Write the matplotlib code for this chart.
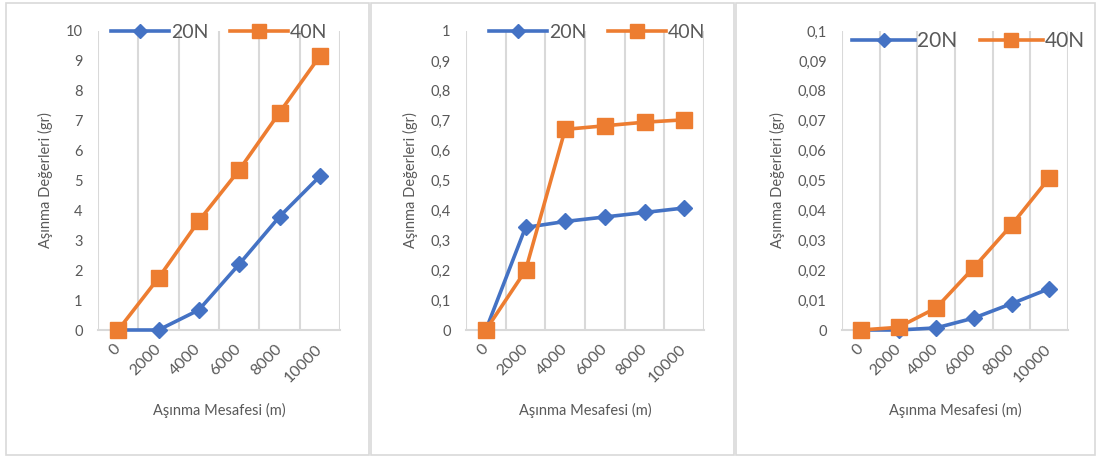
import matplotlib
matplotlib.use("Agg")
import matplotlib.pyplot as plt
from matplotlib.patches import Rectangle

plt.rcParams['font.family'] = ['Lato', 'DejaVu Sans']

categories = ["0", "2000", "4000", "6000", "8000", "10000"]

n20_a = [0, 0, 0.67, 2.2, 3.79, 5.14]
n40_a = [0, 1.74, 3.65, 5.35, 7.27, 9.16]

n20_b = [0, 0.343, 0.363, 0.378, 0.393, 0.408]
n40_b = [0, 0.199, 0.671, 0.683, 0.695, 0.703]

n20_c = [0, 0, 0.0007, 0.0040, 0.0088, 0.0138]
n40_c = [0, 0.0009, 0.0074, 0.0209, 0.0351, 0.0508]

yticks_a = [0, 1, 2, 3, 4, 5, 6, 7, 8, 9, 10]
ylabels_a = ["0", "1", "2", "3", "4", "5", "6", "7", "8", "9", "10"]
yticks_b = [0, 0.1, 0.2, 0.3, 0.4, 0.5, 0.6, 0.7, 0.8, 0.9, 1.0]
ylabels_b = ["0", "0,1", "0,2", "0,3", "0,4", "0,5", "0,6", "0,7", "0,8", "0,9", "1"]
yticks_c = [0, 0.01, 0.02, 0.03, 0.04, 0.05, 0.06, 0.07, 0.08, 0.09, 0.1]
ylabels_c = ["0", "0,01", "0,02", "0,03", "0,04", "0,05", "0,06", "0,07", "0,08", "0,09", "0,1"]

BLUE = "#4472C4"
ORANGE = "#ED7D31"
GRID = "#D9D9D9"
TXT = "#595959"

W, H = 1097, 457
fig = plt.figure(figsize=(W / 100, H / 100), dpi=100)


def px_axes(left, top, right, bottom):
    return fig.add_axes([left / W, 1 - bottom / H, (right - left) / W, (bottom - top) / H])


def frame(left, top, right, bottom):
    fig.patches.append(Rectangle((left / W, 1 - bottom / H), (right - left) / W, (bottom - top) / H,
                                 transform=fig.transFigure, fill=False, edgecolor=GRID, lw=1.2))


def draw_panel(ax, y20, y40, yticks, ylabels, leg_dx, leg_dy, leg_fs):
    x = list(range(len(categories)))
    ax.plot(x, y20, color=BLUE, lw=2.6, marker="D", ms=8, label="20N", zorder=3, clip_on=False)
    ax.plot(x, y40, color=ORANGE, lw=2.6, marker="s", ms=12, label="40N", zorder=4, clip_on=False)

    ax.set_xlim(-0.5, len(categories) - 0.5)
    ax.set_ylim(yticks[0], yticks[-1])
    ax.set_xticks(x)
    ax.set_xticklabels(categories, rotation=45, ha="right", va="center", rotation_mode="anchor")
    ax.set_xticks([i - 0.5 for i in range(len(categories) + 1)], minor=True)
    ax.grid(True, axis="x", which="minor", color=GRID, lw=1.5, zorder=0)
    ax.set_yticks(yticks)
    ax.set_yticklabels(ylabels)

    for s in ["top", "right", "left"]:
        ax.spines[s].set_visible(False)
    ax.spines["bottom"].set_color(GRID)
    ax.spines["bottom"].set_linewidth(1.5)
    ax.tick_params(axis="x", which="both", length=0, pad=12, labelsize=11.5, labelcolor=TXT)
    ax.tick_params(axis="y", length=0, pad=11, labelsize=10.5, labelcolor=TXT)

    ax.set_xlabel("Aşınma Mesafesi (m)", fontsize=10.5, color=TXT, labelpad=13)
    ax.set_ylabel("Aşınma Değerleri (gr)", fontsize=10.5, color=TXT, labelpad=9)

    leg = ax.legend(loc="center", bbox_to_anchor=(0.5 + leg_dx, 1.0 + leg_dy), ncol=2, frameon=False,
                    fontsize=leg_fs, handlelength=3.0, handletextpad=0.1, columnspacing=1.1,
                    markerscale=0.85)
    for t in leg.get_texts():
        t.set_color(TXT)


frame(6, 3, 369, 455)
frame(371, 3, 734, 455)
frame(736, 3, 1095, 455)

ax1 = px_axes(98, 31, 340, 330)
draw_panel(ax1, n20_a, n40_a, yticks_a, ylabels_a, 0.0, -0.005, 14)

ax2 = px_axes(466, 31, 704, 330)
draw_panel(ax2, n20_b, n40_b, yticks_b, ylabels_b, 0.05, -0.005, 14)

ax3 = px_axes(842, 31, 1068, 330)
draw_panel(ax3, n20_c, n40_c, yticks_c, ylabels_c, 0.06, -0.035, 15)

fig.savefig("out.png", dpi=100)
